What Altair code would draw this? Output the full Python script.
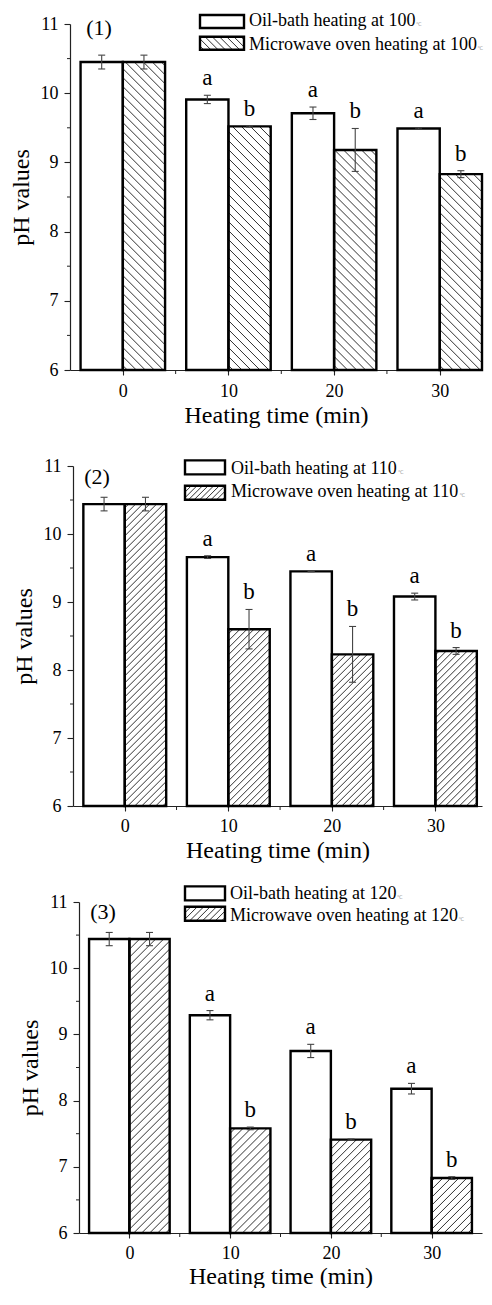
import altair as alt
import pandas as pd

# ---------------- data ----------------
TIMES = [0, 10, 20, 30]
TEMPS = ["100", "110", "120"]
PANEL_TAGS = ["(1)", "(2)", "(3)"]

OIL_1 = [10.45, 9.91, 9.71, 9.49]
OIL_1_ERR = [0.10, 0.06, 0.09, 0.01]
MW_1 = [10.45, 9.52, 9.18, 8.83]
MW_1_ERR = [0.10, 0.01, 0.31, 0.05]

OIL_2 = [10.44, 9.66, 9.45, 9.08]
OIL_2_ERR = [0.10, 0.02, 0.005, 0.05]
MW_2 = [10.44, 8.60, 8.23, 8.28]
MW_2_ERR = [0.10, 0.29, 0.41, 0.05]

OIL_3 = [10.44, 9.29, 8.75, 8.18]
OIL_3_ERR = [0.10, 0.07, 0.10, 0.08]
MW_3 = [10.44, 7.58, 7.41, 6.83]
MW_3_ERR = [0.10, 0.02, 0.01, 0.02]

OIL_LETTERS = ["", "a", "a", "a"]
MW_LETTERS = ["", "b", "b", "b"]

LEGEND_OIL = "Oil-bath heating at "
LEGEND_MW = "Microwave oven heating at "
DEG = "\u2103"

Y_TICKS = [6, 7, 8, 9, 10, 11]
Y_MINOR = [6.5, 7.5, 8.5, 9.5, 10.5]
X_TICKS = [0, 10, 20, 30]
X_MINOR = [5, 15, 25]
Y_TITLE = "pH values"
X_TITLE = "Heating time (min)"

# ---------------- style / layout ----------------
FONT = "Liberation Serif"
BAR_W = 4  # bar width in minutes
Y_DOM = [6, 11]
LEG_FS = 18

TIMES_W = {" ": 250, "-": 333, "O": 722, "M": 889, "a": 444, "b": 500, "c": 444, "e": 444,
           "g": 500, "h": 500, "i": 278, "l": 278, "n": 500, "o": 500, "r": 333, "t": 278,
           "v": 500, "w": 722}


def text_width(s, fs):
    return sum(TIMES_W.get(ch, 500) for ch in s) * fs / 1000.0


LAYOUT = [
    dict(width=412, height=346, x0=0, xdom=[-5, 34], hatch="back", hsp=9.0,
         box_x=130, box_w=44, box_y=[-9, 12.7], box_h=13, text_x=179, text_y=[-2.6, 20.7],
         tag=(29, 4), xlab_pad=7, xtitle_pad=3),
    dict(width=412, height=340, x0=3, xdom=[-5, 34.5], hatch="fwd", hsp=7.0,
         box_x=115, box_w=40, box_y=[-5.6, 19.7], box_h=14, text_x=161, text_y=[3.4, 25.7],
         tag=(27, 11), xlab_pad=6, xtitle_pad=3),
    dict(width=412, height=331, x0=9, xdom=[-5, 35], hatch="fwd", hsp=8.0,
         box_x=115, box_w=40, box_y=[-15.6, 4.7], box_h=14, text_x=160, text_y=[-8, 13.7],
         tag=(33, 10), xlab_pad=6, xtitle_pad=2),
]

SERIES = [
    (OIL_1, OIL_1_ERR, MW_1, MW_1_ERR),
    (OIL_2, OIL_2_ERR, MW_2, MW_2_ERR),
    (OIL_3, OIL_3_ERR, MW_3, MW_3_ERR),
]


def hatch_segments(xl, xr, yb, yt, sx, sy, direction, spacing):
    """Diagonal hatch lines clipped to a rectangle, in data units."""
    W = (xr - xl) * sx
    H = (yt - yb) * sy
    segs = []
    if direction == "fwd":
        c = -W + spacing / 2
        while c < H:
            u1 = max(0.0, -c)
            u2 = min(W, H - c)
            if u2 - u1 > 0.3:
                segs.append((xl + u1 / sx, yb + (u1 + c) / sy, xl + u2 / sx, yb + (u2 + c) / sy))
            c += spacing
    else:
        c = spacing / 2
        while c < W + H:
            u1 = max(0.0, c - H)
            u2 = min(W, c)
            if u2 - u1 > 0.3:
                segs.append((xl + u1 / sx, yb + (c - u1) / sy, xl + u2 / sx, yb + (c - u2) / sy))
            c += spacing
    return segs


def one():
    return pd.DataFrame({"k": [0]})


def make_panel(idx):
    L = LAYOUT[idx]
    oil, oil_e, mw, mw_e = SERIES[idx]
    w, h, x0 = L["width"], L["height"], L["x0"]
    sx = (w - x0) / (L["xdom"][1] - L["xdom"][0])
    sy = h / (Y_DOM[1] - Y_DOM[0])

    rows = []
    for i, t in enumerate(TIMES):
        rows.append(dict(t=t, s="oil", v=oil[i], e=oil_e[i], letter=OIL_LETTERS[i],
                         xl=t - BAR_W, xr=t, xc=t - BAR_W / 2))
        rows.append(dict(t=t, s="mw", v=mw[i], e=mw_e[i], letter=MW_LETTERS[i],
                         xl=t, xr=t + BAR_W, xc=t + BAR_W / 2))
    df = pd.DataFrame(rows)
    df["base"] = Y_DOM[0]
    df["lo"] = df["v"] - df["e"]
    df["hi"] = df["v"] + df["e"]
    cap = 3.5 / sx
    df["cl"] = df["xc"] - cap
    df["cr"] = df["xc"] + cap
    lab_df = df[df.letter != ""]

    xs = alt.Scale(domain=L["xdom"], range=[x0, w], nice=False, zero=False)
    ys = alt.Scale(domain=Y_DOM, nice=False, zero=False)

    xaxis = alt.Axis(values=X_TICKS, title=X_TITLE, grid=False, tickSize=5,
                     labelPadding=L["xlab_pad"], titlePadding=L["xtitle_pad"], format="d")
    yaxis = alt.Axis(values=Y_TICKS, title=Y_TITLE, grid=False, tickSize=6,
                     labelPadding=6, titlePadding=7, offset=-x0, format="d")

    def X(f):
        return alt.X(f, type="quantitative", scale=xs, axis=xaxis)

    def Y(f):
        return alt.Y(f, type="quantitative", scale=ys, axis=yaxis)

    base = alt.Chart(df)
    fills = base.mark_rect(fill="white", strokeWidth=0).encode(
        x=X("xl"), x2="xr", y=Y("base"), y2="v")

    hs = []
    for _, r in df[df.s == "mw"].iterrows():
        hs += hatch_segments(r.xl, r.xr, Y_DOM[0], r.v, sx, sy, L["hatch"], L["hsp"])
    bx0 = L["xdom"][0] + (L["box_x"] - x0) / sx
    bx1 = L["xdom"][0] + (L["box_x"] + L["box_w"] - x0) / sx
    by_top = Y_DOM[1] - L["box_y"][1] / sy
    by_bot = Y_DOM[1] - (L["box_y"][1] + L["box_h"]) / sy
    hs += hatch_segments(bx0, bx1, by_bot, by_top, sx, sy, L["hatch"], L["hsp"] * 0.8)
    hdf = pd.DataFrame(hs, columns=["x1", "y1", "x2", "y2"])
    hatch = alt.Chart(hdf).mark_rule(color="#1a1a1a", strokeWidth=0.9).encode(
        x=X("x1"), x2="x2", y=Y("y1"), y2="y2")

    outline = base.mark_rect(filled=False, stroke="black", strokeWidth=2.4).encode(
        x=X("xl"), x2="xr", y=Y("base"), y2="v")

    err = base.mark_rule(color="#444", strokeWidth=1.1).encode(x=X("xc"), y=Y("lo"), y2="hi")
    cap_lo = base.mark_rule(color="#444", strokeWidth=1.1).encode(x=X("cl"), x2="cr", y=Y("lo"))
    cap_hi = base.mark_rule(color="#444", strokeWidth=1.1).encode(x=X("cl"), x2="cr", y=Y("hi"))

    letters = alt.Chart(lab_df).mark_text(baseline="bottom", dy=-5, fontSize=23, font=FONT,
                                          color="black").encode(
        x=X("xc"), y=Y("hi"), text="letter:N")

    yminor = alt.Chart(pd.DataFrame({"m": Y_MINOR})).mark_rule(color="#222", strokeWidth=1).encode(
        y=Y("m"), x=alt.value(x0 - 3), x2=alt.value(x0))
    xminor = alt.Chart(pd.DataFrame({"m": X_MINOR})).mark_rule(color="#222", strokeWidth=1).encode(
        x=X("m"), y=alt.value(h), y2=alt.value(h + 4))

    tag = alt.Chart(one()).mark_text(text=PANEL_TAGS[idx], fontSize=22, font=FONT,
                                     baseline="middle", align="center", color="black").encode(
        x=alt.value(L["tag"][0]), y=alt.value(L["tag"][1]))

    leg = []
    for j, (lab, hatched) in enumerate([(LEGEND_OIL, False), (LEGEND_MW, True)]):
        y_top = L["box_y"][j]
        mk = (alt.Chart(one()).mark_rect(filled=False, stroke="black", strokeWidth=2.4) if hatched
              else alt.Chart(one()).mark_rect(fill="white", stroke="black", strokeWidth=2.4))
        leg.append(mk.encode(
            x=alt.value(L["box_x"]), x2=alt.value(L["box_x"] + L["box_w"]),
            y=alt.value(y_top), y2=alt.value(y_top + L["box_h"])))
        label = lab + TEMPS[idx]
        leg.append(alt.Chart(one()).mark_text(text=label, fontSize=LEG_FS, font=FONT,
                                              align="left", baseline="middle", color="black").encode(
            x=alt.value(L["text_x"]), y=alt.value(L["text_y"][j])))
        leg.append(alt.Chart(one()).mark_text(text=DEG, fontSize=5, font="DejaVu Sans",
                                              align="left", baseline="middle", color="#999").encode(
            x=alt.value(L["text_x"] + text_width(label, LEG_FS) + 0.5),
            y=alt.value(L["text_y"][j] + 3)))

    layer = alt.layer(fills, hatch, outline, err, cap_lo, cap_hi, letters, yminor, xminor, tag, *leg)
    return layer.properties(width=w, height=h)


panels = [make_panel(i) for i in range(3)]

chart = alt.vconcat(*panels, spacing=96, bounds="flush").properties(
    padding={"left": 1, "top": 4, "right": 0, "bottom": 0}
).configure_view(stroke=None).configure_axis(
    labelFont=FONT, titleFont=FONT, labelFontSize=18, titleFontSize=24,
    titleFontWeight="normal", labelColor="black", titleColor="black",
    domainColor="#222", tickColor="#222", domainWidth=1.2, tickWidth=1.1
).configure_text(font=FONT)

chart.save("out.html", embed_options={"renderer": "svg", "actions": False})
